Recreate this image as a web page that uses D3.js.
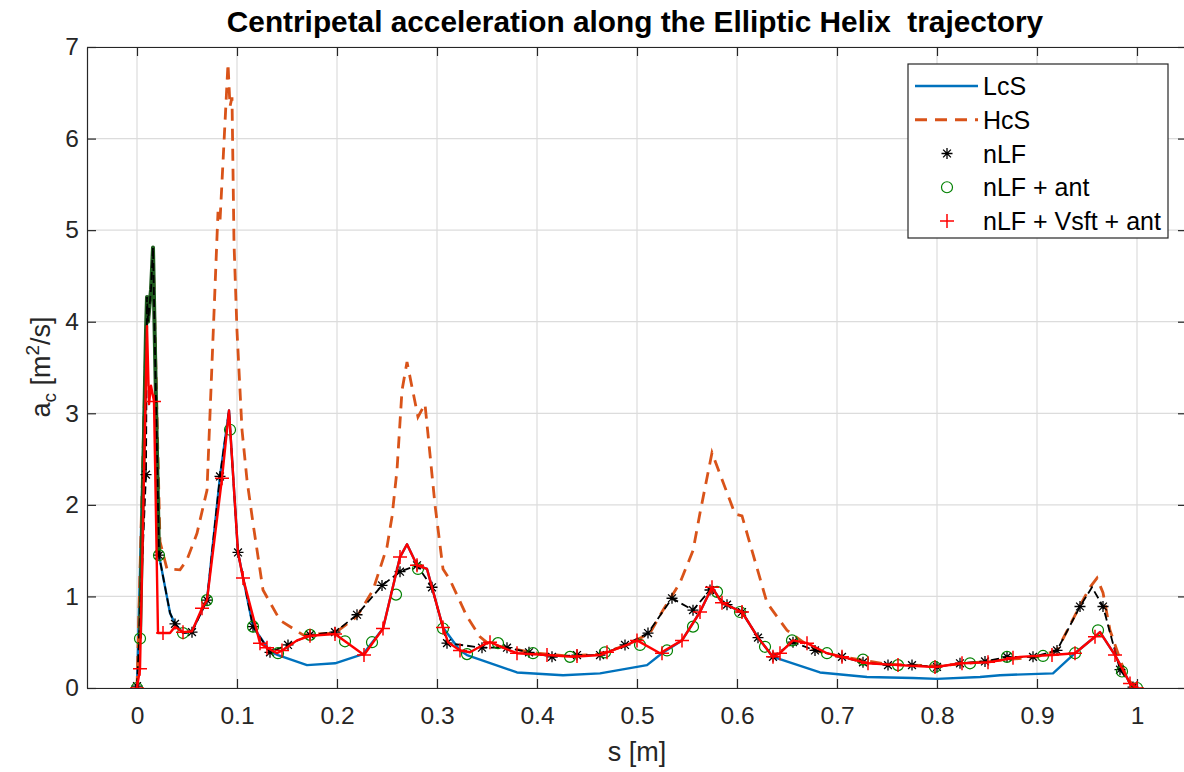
<!DOCTYPE html>
<html lang="en">
<head>
<meta charset="UTF-8" />
<title>Centripetal acceleration along the Elliptic Helix trajectory</title>
<script src="https://d3js.org/d3.v7.min.js"></script>
<style>
  body { margin: 0; background: #fff; }
  svg { display: block; font-family: "Liberation Sans", Arial, sans-serif; }
  .axis path, .axis line { stroke: #262626; stroke-width: 1.2; }
  .axis text { fill: #262626; font-size: 24.5px; font-family: "Liberation Sans", Arial, sans-serif; }
  .grid line { stroke: #dcdcdc; stroke-width: 1.2; }
</style>
</head>
<body>
<svg id="chart" width="1184" height="772"></svg>
<script>
// values, [s, a_c]
const lcs = [[0,0],[0.010,4.27],[0.011,4.0],[0.014,4.35],[0.016,4.81],[0.022,1.45],[0.033,0.82],[0.038,0.7],
  [0.046,0.6],[0.055,0.62],[0.07,0.96],[0.083,2.31],[0.092,3.03],[0.101,1.48],[0.116,0.67],[0.133,0.4],
  [0.141,0.36],[0.17,0.25],[0.198,0.27],[0.226,0.37],[0.246,0.65],[0.263,1.43],[0.27,1.57],[0.28,1.34],
  [0.29,1.3],[0.306,0.66],[0.323,0.41],[0.33,0.36],[0.38,0.17],[0.426,0.14],[0.463,0.16],[0.51,0.25],
  [0.525,0.38],[0.545,0.52],[0.563,0.83],[0.575,1.1],[0.585,0.93],[0.605,0.83],[0.621,0.55],[0.636,0.34],
  [0.683,0.17],[0.73,0.12],[0.776,0.11],[0.8,0.1],[0.843,0.12],[0.863,0.14],[0.916,0.16],[0.938,0.38],
  [0.958,0.56],[0.963,0.61],[0.978,0.36],[0.993,0.05],[1,0]];

const hcs = [[0,0],[0.010,4.27],[0.011,4.0],[0.014,4.35],[0.016,4.81],[0.023,1.6],[0.03,1.3],[0.043,1.29],
  [0.05,1.4],[0.06,1.69],[0.07,2.16],[0.081,5.2],[0.083,5.1],[0.091,6.82],[0.093,6.35],[0.095,6.45],
  [0.097,4.86],[0.1,3.9],[0.105,2.82],[0.11,2.27],[0.116,1.8],[0.126,1.07],[0.143,0.74],[0.166,0.58],
  [0.198,0.6],[0.22,0.78],[0.236,1.07],[0.25,1.54],[0.255,1.87],[0.26,2.38],[0.265,3.25],[0.27,3.56],
  [0.281,2.96],[0.288,3.1],[0.298,2.0],[0.306,1.3],[0.313,1.18],[0.33,0.78],[0.343,0.56],[0.353,0.47],
  [0.37,0.44],[0.4,0.38],[0.43,0.35],[0.463,0.37],[0.49,0.47],[0.513,0.6],[0.526,0.85],[0.543,1.15],
  [0.556,1.5],[0.563,1.91],[0.575,2.57],[0.598,1.9],[0.605,1.88],[0.615,1.5],[0.63,0.93],[0.65,0.63],
  [0.66,0.55],[0.678,0.41],[0.705,0.34],[0.75,0.26],[0.8,0.24],[0.85,0.29],[0.9,0.34],[0.92,0.41],
  [0.943,0.9],[0.953,1.1],[0.96,1.2],[0.966,1.04],[0.973,0.63],[0.98,0.41],[0.99,0.1],[1,0]];

const nlfLine = [[0,0.02],[0.009,2.33],[0.010,4.27],[0.011,4.0],[0.014,4.35],[0.016,4.81],[0.022,1.45],
  [0.033,0.82],[0.038,0.7],[0.046,0.6],[0.055,0.61],[0.07,0.96],[0.083,2.31],[0.092,3.03],[0.101,1.48],
  [0.116,0.67],[0.133,0.39],[0.151,0.47],[0.173,0.58],[0.198,0.61],[0.22,0.8],[0.245,1.12],[0.263,1.27],
  [0.28,1.34],[0.295,1.1],[0.31,0.49],[0.345,0.44],[0.37,0.44],[0.392,0.39],[0.415,0.34],[0.44,0.36],
  [0.463,0.36],[0.488,0.47],[0.511,0.6],[0.535,0.98],[0.556,0.85],[0.573,1.07],[0.59,0.91],[0.605,0.83],
  [0.621,0.55],[0.636,0.34],[0.656,0.5],[0.678,0.41],[0.705,0.34],[0.726,0.28],[0.751,0.25],[0.775,0.25],
  [0.8,0.23],[0.823,0.27],[0.848,0.29],[0.87,0.34],[0.896,0.34],[0.92,0.41],[0.943,0.89],[0.955,1.1],
  [0.966,0.89],[0.983,0.2],[0.996,0.01],[1,0]];

const nlfMarks = [[0,0.02],[0.009,2.33],[0.022,1.45],[0.038,0.7],[0.055,0.61],[0.07,0.96],[0.083,2.31],
  [0.101,1.48],[0.116,0.67],[0.133,0.39],[0.151,0.47],[0.173,0.58],[0.198,0.61],[0.22,0.8],[0.245,1.12],
  [0.263,1.27],[0.28,1.34],[0.295,1.1],[0.31,0.49],[0.345,0.44],[0.37,0.44],[0.392,0.39],[0.415,0.34],
  [0.44,0.36],[0.463,0.36],[0.488,0.47],[0.511,0.6],[0.535,0.98],[0.556,0.85],[0.573,1.07],[0.59,0.91],
  [0.605,0.83],[0.621,0.55],[0.636,0.34],[0.656,0.5],[0.678,0.41],[0.705,0.34],[0.726,0.28],[0.751,0.25],
  [0.775,0.25],[0.8,0.23],[0.823,0.27],[0.848,0.29],[0.87,0.34],[0.896,0.34],[0.92,0.41],[0.943,0.89],
  [0.966,0.89],[0.983,0.2],[0.996,0.01]];

// nLF + ant: the dense run of markers at the first spike shows as a dark green trace
const antSpike = [[0.003,0.54],[0.009,3.9],[0.010,4.27],[0.011,4.0],[0.014,4.35],[0.016,4.81],[0.022,1.45]];
const antMarks = [[0,0],[0.003,0.54],[0.022,1.45],[0.046,0.6],[0.07,0.96],[0.093,2.82],
  [0.116,0.67],[0.141,0.38],[0.173,0.58],[0.208,0.51],[0.235,0.5],[0.259,1.02],[0.281,1.3],[0.306,0.65],
  [0.33,0.37],[0.361,0.49],[0.396,0.38],[0.433,0.34],[0.468,0.39],[0.503,0.47],[0.53,0.41],[0.556,0.67],
  [0.58,1.05],[0.603,0.83],[0.628,0.45],[0.655,0.52],[0.69,0.38],[0.726,0.31],[0.761,0.25],[0.798,0.23],
  [0.833,0.27],[0.87,0.34],[0.906,0.35],[0.938,0.38],[0.961,0.63],[0.985,0.18],[1,0]];

const vsftLine = [[0,0],[0.003,0.21],[0.010,3.95],[0.012,3.1],[0.014,3.3],[0.017,3.13],[0.021,0.6],
  [0.026,0.6],[0.033,0.6],[0.038,0.67],[0.046,0.61],[0.055,0.62],[0.065,0.87],[0.07,0.96],[0.085,2.29],
  [0.092,3.03],[0.101,1.48],[0.106,1.2],[0.123,0.49],[0.13,0.44],[0.14,0.38],[0.145,0.41],[0.151,0.45],
  [0.16,0.52],[0.173,0.57],[0.198,0.59],[0.227,0.36],[0.246,0.65],[0.263,1.43],[0.27,1.57],[0.28,1.34],
  [0.29,1.3],[0.306,0.66],[0.311,0.5],[0.323,0.41],[0.333,0.39],[0.346,0.47],[0.353,0.5],[0.366,0.44],
  [0.38,0.38],[0.41,0.36],[0.436,0.34],[0.463,0.36],[0.49,0.47],[0.5,0.52],[0.523,0.38],[0.545,0.52],
  [0.563,0.83],[0.575,1.1],[0.585,0.93],[0.605,0.83],[0.621,0.55],[0.636,0.34],[0.643,0.38],[0.656,0.52],
  [0.67,0.49],[0.69,0.38],[0.705,0.34],[0.731,0.27],[0.761,0.25],[0.798,0.23],[0.825,0.27],[0.851,0.28],
  [0.883,0.34],[0.915,0.36],[0.938,0.38],[0.958,0.56],[0.963,0.61],[0.978,0.36],[0.993,0.05],[1,0]];

const vsftMarks = [[0,0],[0.003,0.21],[0.017,3.13],[0.026,0.6],[0.046,0.61],[0.065,0.87],[0.085,2.29],
  [0.106,1.2],[0.123,0.49],[0.13,0.44],[0.145,0.41],[0.173,0.57],[0.198,0.59],[0.227,0.36],[0.246,0.65],
  [0.263,1.43],[0.28,1.34],[0.306,0.66],[0.323,0.41],[0.353,0.5],[0.38,0.38],[0.41,0.36],[0.44,0.35],
  [0.47,0.39],[0.5,0.52],[0.525,0.38],[0.545,0.52],[0.563,0.83],[0.575,1.1],[0.585,0.93],[0.605,0.83],
  [0.636,0.34],[0.643,0.38],[0.67,0.49],[0.705,0.34],[0.731,0.27],[0.761,0.25],[0.798,0.23],[0.825,0.27],
  [0.851,0.28],[0.876,0.33],[0.915,0.36],[0.938,0.38],[0.958,0.56],[0.978,0.36],[0.993,0.05],[1,0]];

const xTicks = [0, 0.1, 0.2, 0.3, 0.4, 0.5, 0.6, 0.7, 0.8, 0.9, 1];
const yTicks = [0, 1, 2, 3, 4, 5, 6, 7];
const legendNames = ["LcS", "HcS", "nLF", "nLF + ant", "nLF + Vsft + ant"];

const svg = d3.select("#chart");
const pLeft = 87, pRight = 1187, pTop = 47, pBottom = 688;

const x = d3.scaleLinear().domain([-0.05, 1.05]).range([pLeft, pRight]);
const y = d3.scaleLinear().domain([0, 7]).range([pBottom, pTop]);

svg.append("defs").append("clipPath").attr("id", "plotclip")
  .append("rect").attr("x", pLeft).attr("y", pTop).attr("width", pRight - pLeft).attr("height", pBottom - pTop);

// grid
const grid = svg.append("g").attr("class", "grid");
grid.selectAll(".vx").data(xTicks).join("line")
  .attr("x1", d => x(d)).attr("x2", d => x(d)).attr("y1", pTop).attr("y2", pBottom);
grid.selectAll(".hy").data(yTicks).join("line")
  .attr("x1", pLeft).attr("x2", pRight).attr("y1", d => y(d)).attr("y2", d => y(d));

// axes
const fmt = d => String(+d.toFixed(1));
svg.append("g").attr("class", "axis").attr("transform", `translate(0,${pBottom})`)
  .call(d3.axisBottom(x).tickValues(xTicks).tickFormat(fmt).tickSize(-9).tickSizeOuter(0).tickPadding(19));
svg.append("g").attr("class", "axis").attr("transform", `translate(0,${pTop})`)
  .call(d3.axisTop(x).tickValues(xTicks).tickFormat("").tickSize(-9).tickSizeOuter(0));
svg.append("g").attr("class", "axis").attr("transform", `translate(${pLeft},0)`)
  .call(d3.axisLeft(y).tickValues(yTicks).tickFormat(d3.format("d")).tickSize(-9).tickSizeOuter(0).tickPadding(8));
svg.append("g").attr("class", "axis").attr("transform", `translate(${pRight},0)`)
  .call(d3.axisRight(y).tickValues(yTicks).tickFormat("").tickSize(-9).tickSizeOuter(0));

const plot = svg.append("g").attr("clip-path", "url(#plotclip)");
const line = d3.line().x(d => x(d[0])).y(d => y(d[1]));

const blue = "#0072BD", orange = "#D95319", green = "#008000", red = "#FF0000";

plot.append("path").attr("d", line(lcs)).attr("fill", "none").attr("stroke", blue)
  .attr("stroke-width", 2.4).attr("stroke-linejoin", "round");
plot.append("path").attr("d", line(hcs)).attr("fill", "none").attr("stroke", orange)
  .attr("stroke-width", 2.8).attr("stroke-dasharray", "12,8");
plot.append("path").attr("d", line(antSpike)).attr("fill", "none").attr("stroke", "#1e5a1e")
  .attr("stroke-width", 4).attr("stroke-linejoin", "round");
plot.append("path").attr("d", line(nlfLine)).attr("fill", "none").attr("stroke", "#000")
  .attr("stroke-width", 1.8).attr("stroke-dasharray", "8,4");

const star = "M-5.5,0H5.5M0,-5.5V5.5M-3.9,-3.9L3.9,3.9M-3.9,3.9L3.9,-3.9";
const plus = "M-7,0H7M0,-7V7";

plot.selectAll(".star").data(nlfMarks).join("path")
  .attr("transform", d => `translate(${x(d[0])},${y(d[1])})`)
  .attr("d", star).attr("stroke", "#000").attr("stroke-width", 1.3).attr("fill", "none");
plot.selectAll(".circ").data(antMarks).join("circle")
  .attr("cx", d => x(d[0])).attr("cy", d => y(d[1])).attr("r", 5.5)
  .attr("stroke", green).attr("stroke-width", 1.2).attr("fill", "none");
plot.append("path").attr("d", line(vsftLine)).attr("fill", "none").attr("stroke", red)
  .attr("stroke-width", 2.4).attr("stroke-linejoin", "round");
plot.selectAll(".plus").data(vsftMarks).join("path")
  .attr("transform", d => `translate(${x(d[0])},${y(d[1])})`)
  .attr("d", plus).attr("stroke", red).attr("stroke-width", 1.5).attr("fill", "none");

// title and labels
svg.append("text").attr("x", 635).attr("y", 32).attr("text-anchor", "middle")
  .attr("font-size", 29.8).attr("font-weight", "bold").attr("fill", "#000")
  .style("white-space", "pre")
  .text("Centripetal acceleration along the Elliptic Helix  trajectory");
svg.append("text").attr("x", 637).attr("y", 761).attr("text-anchor", "middle")
  .attr("font-size", 27).attr("fill", "#262626").text("s [m]");

const yl = svg.append("text").attr("transform", "translate(50,367) rotate(-90)")
  .attr("text-anchor", "middle").attr("font-size", 27).attr("fill", "#262626");
yl.append("tspan").text("a");
yl.append("tspan").attr("font-size", 19).attr("dy", 6).text("c");
yl.append("tspan").attr("dy", -6).text(" [m");
yl.append("tspan").attr("font-size", 19).attr("dy", -11).text("2");
yl.append("tspan").attr("dy", 11).text("/s]");

// legend
const lg = svg.append("g");
lg.append("rect").attr("x", 908).attr("y", 64).attr("width", 260).attr("height", 174)
  .attr("fill", "#fff").attr("stroke", "#262626").attr("stroke-width", 1.2);
const rowY = d3.scalePoint().domain(legendNames).range([86, 221]);
legendNames.forEach((name, i) => {
  const cy = rowY(name);
  if (i === 0) lg.append("line").attr("x1", 915).attr("x2", 978).attr("y1", cy).attr("y2", cy)
    .attr("stroke", blue).attr("stroke-width", 2.4);
  if (i === 1) lg.append("line").attr("x1", 915).attr("x2", 978).attr("y1", cy).attr("y2", cy)
    .attr("stroke", orange).attr("stroke-width", 2.8).attr("stroke-dasharray", "12,8");
  if (i === 2) lg.append("path").attr("transform", `translate(947,${cy})`).attr("d", star)
    .attr("stroke", "#000").attr("stroke-width", 1.3);
  if (i === 3) lg.append("circle").attr("cx", 947).attr("cy", cy).attr("r", 5.5)
    .attr("stroke", green).attr("stroke-width", 1.2).attr("fill", "none");
  if (i === 4) lg.append("path").attr("transform", `translate(947,${cy})`).attr("d", plus)
    .attr("stroke", red).attr("stroke-width", 1.5);
  lg.append("text").attr("x", 983).attr("y", cy + 9).attr("font-size", 25).attr("fill", "#000").text(name);
});
</script>
</body>
</html>
